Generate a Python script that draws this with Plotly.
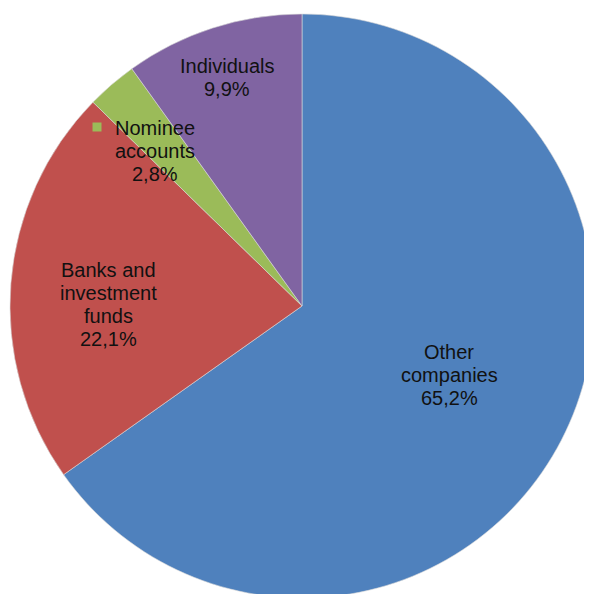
import plotly.graph_objects as go

labels = ["Other companies", "Banks and investment funds", "Nominee accounts", "Individuals"]
values = [65.2, 22.1, 2.8, 9.9]
colors = ["#4F81BD", "#C0504D", "#9BBB59", "#8064A2"]
label_lines = [["Other", "companies"], ["Banks and", "investment", "funds"], ["Nominee", "accounts"], ["Individuals"]]

W, H = 592, 594
OFF = 8  # page body margin

fig = go.Figure(go.Pie(
    labels=labels,
    values=values,
    sort=False,
    direction="clockwise",
    rotation=0,
    marker=dict(colors=colors, line=dict(color="#d9d9d9", width=0.6)),
    textinfo="none",
    hoverinfo="label+percent",
    showlegend=False,
    domain=dict(x=[2 / W, 586 / W], y=[1 - 590 / H, 1 - 6 / H]),
))

def pct(v):
    return f"{v:.1f}".replace(".", ",") + "%"

# label anchor: (x centre, y of first line centre) in page pixels
anchors = [(449, 352), (108, 270), (155, 128), (227, 66)]
LINE = 23
for lines, v, (cx, cy) in zip(label_lines, values, anchors):
    for i, s in enumerate(lines + [pct(v)]):
        fig.add_annotation(
            x=(cx - OFF) / W, y=1 - (cy - OFF + i * LINE) / H,
            xref="paper", yref="paper",
            xanchor="center", yanchor="middle",
            text=s, showarrow=False, align="center",
            font=dict(family="Liberation Sans, Arial, sans-serif", size=20, color="#111111"),
        )

# small legend key for the nominee label
kx, ky = 97 - OFF, 127 - OFF
fig.add_shape(
    type="rect", xref="paper", yref="paper",
    x0=(kx - 4.5) / W, x1=(kx + 4.5) / W, y0=1 - (ky + 4.5) / H, y1=1 - (ky - 4.5) / H,
    fillcolor=colors[2], line=dict(width=0),
)

fig.update_layout(
    width=W, height=H,
    margin=dict(l=0, r=0, t=0, b=0),
    paper_bgcolor="white",
    plot_bgcolor="white",
)

fig.write_html("out.html")
